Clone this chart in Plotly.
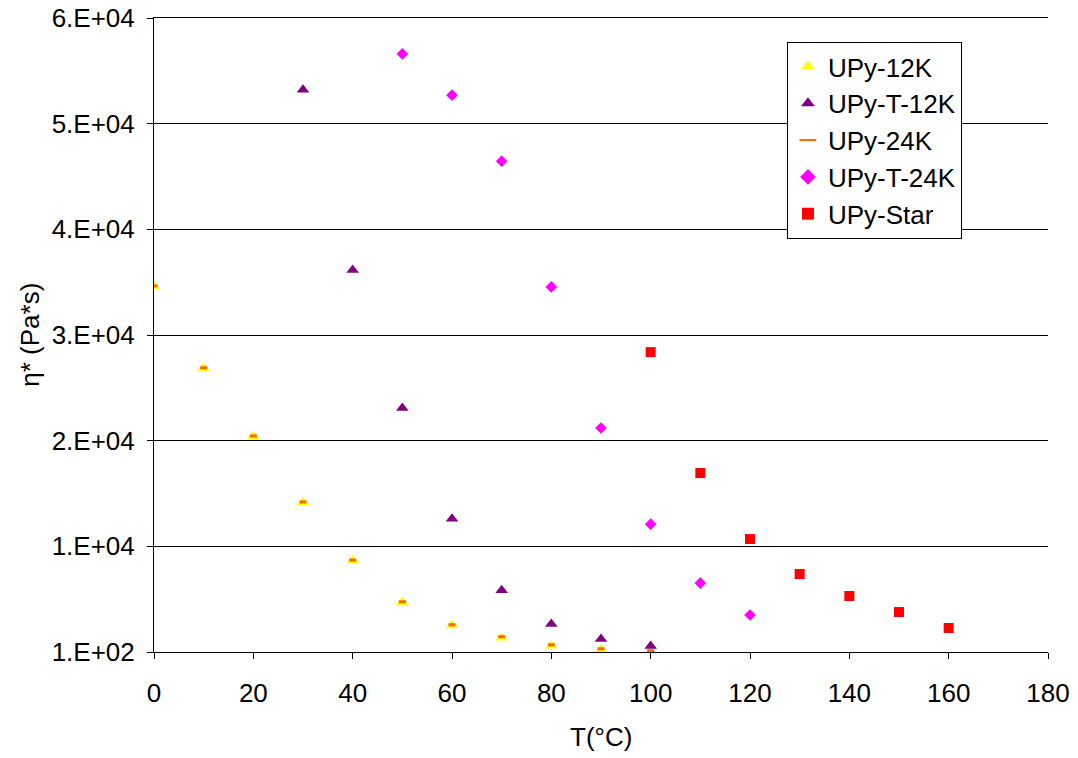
import plotly.graph_objects as go

# Data
t_12k = [0, 10, 20, 30, 40, 50, 60, 70, 80, 90, 100]
eta_12k = [34700, 26950, 20500, 14250, 8750, 4800, 2600, 1450, 700, 330, 150]

t_t12k = [30, 40, 50, 60, 70, 80, 90, 100]
eta_t12k = [53300, 36250, 23200, 12700, 5950, 2750, 1330, 670]

t_24k = [0, 10, 20, 30, 40, 50, 60, 70, 80, 90, 100]
eta_24k = [34750, 27000, 20550, 14300, 8800, 4850, 2680, 1550, 780, 400, 220]

t_t24k = [50, 60, 70, 80, 90, 100, 110, 120]
eta_t24k = [56700, 52800, 46550, 34650, 21300, 12200, 6620, 3600]

t_star = [100, 110, 120, 130, 140, 150, 160]
eta_star = [28480, 17040, 10790, 7480, 5400, 3880, 2370]

y_tickvals = [100, 10100, 20100, 30100, 40100, 50100, 60100]
y_ticktext = ["1.E+02", "1.E+04", "2.E+04", "3.E+04", "4.E+04", "5.E+04", "6.E+04"]
x_tickvals = [0, 20, 40, 60, 80, 100, 120, 140, 160, 180]

fig = go.Figure()
fig.add_trace(go.Scatter(x=t_12k, y=eta_12k, mode="markers", name="UPy-12K",
                         marker=dict(symbol="triangle-up", color="#FFFF00", size=11)))
fig.add_trace(go.Scatter(x=t_t12k, y=eta_t12k, mode="markers", name="UPy-T-12K",
                         marker=dict(symbol="triangle-up", color="#800080", size=11)))
fig.add_trace(go.Scatter(x=t_24k, y=eta_24k, mode="markers", name="UPy-24K",
                         marker=dict(symbol="line-ew", color="#FF6600", size=5,
                                     line=dict(color="#FF6600", width=3))))
fig.add_trace(go.Scatter(x=t_t24k, y=eta_t24k, mode="markers", name="UPy-T-24K",
                         marker=dict(symbol="diamond", color="#FF00FF", size=9)))
fig.add_trace(go.Scatter(x=t_star, y=eta_star, mode="markers", name="UPy-Star",
                         marker=dict(symbol="square", color="#FF0000", size=10)))

font_family = "Liberation Sans, Arial, sans-serif"
fig.update_layout(
    width=1078, height=758,
    margin=dict(l=154, r=30, t=18, b=106),
    paper_bgcolor="white", plot_bgcolor="white",
    font=dict(family=font_family, size=26, color="black"),
    showlegend=True,
    legend=dict(x=0.708, y=0.962, xanchor="left", yanchor="top",
                bgcolor="white", bordercolor="black", borderwidth=1,
                font=dict(size=26, color="black"), itemsizing="constant",
                tracegroupgap=0),
    xaxis=dict(range=[0, 180], tickvals=x_tickvals, showgrid=False,
               showline=True, mirror=True, linecolor="black", linewidth=1,
               ticks="outside", ticklen=6, tickcolor="black",
               zeroline=False, automargin=False, ticklabelstandoff=12,
               ticklabeloverflow="allow", tickfont=dict(size=26)),
    yaxis=dict(range=[100, 60100], tickvals=y_tickvals, ticktext=y_ticktext,
               showgrid=True, gridcolor="black", gridwidth=1,
               showline=True, linecolor="black", linewidth=1,
               ticks="outside", ticklen=6, tickcolor="black",
               zeroline=False, automargin=False, ticklabelstandoff=7,
               ticklabeloverflow="allow", tickfont=dict(size=26)),
    annotations=[
        dict(text="T(°C)", xref="paper", yref="paper", x=0.5, y=-0.134,
             xanchor="center", yanchor="middle", showarrow=False,
             font=dict(size=26, color="black")),
        dict(text="η* (Pa*s)", xref="paper", yref="paper", x=-0.139, y=0.5,
             xanchor="center", yanchor="middle", showarrow=False, textangle=-90,
             font=dict(size=26, color="black")),
    ],
)

fig.write_html("out.html", config={"displayModeBar": False},
               post_script="document.body.style.margin='0';")
